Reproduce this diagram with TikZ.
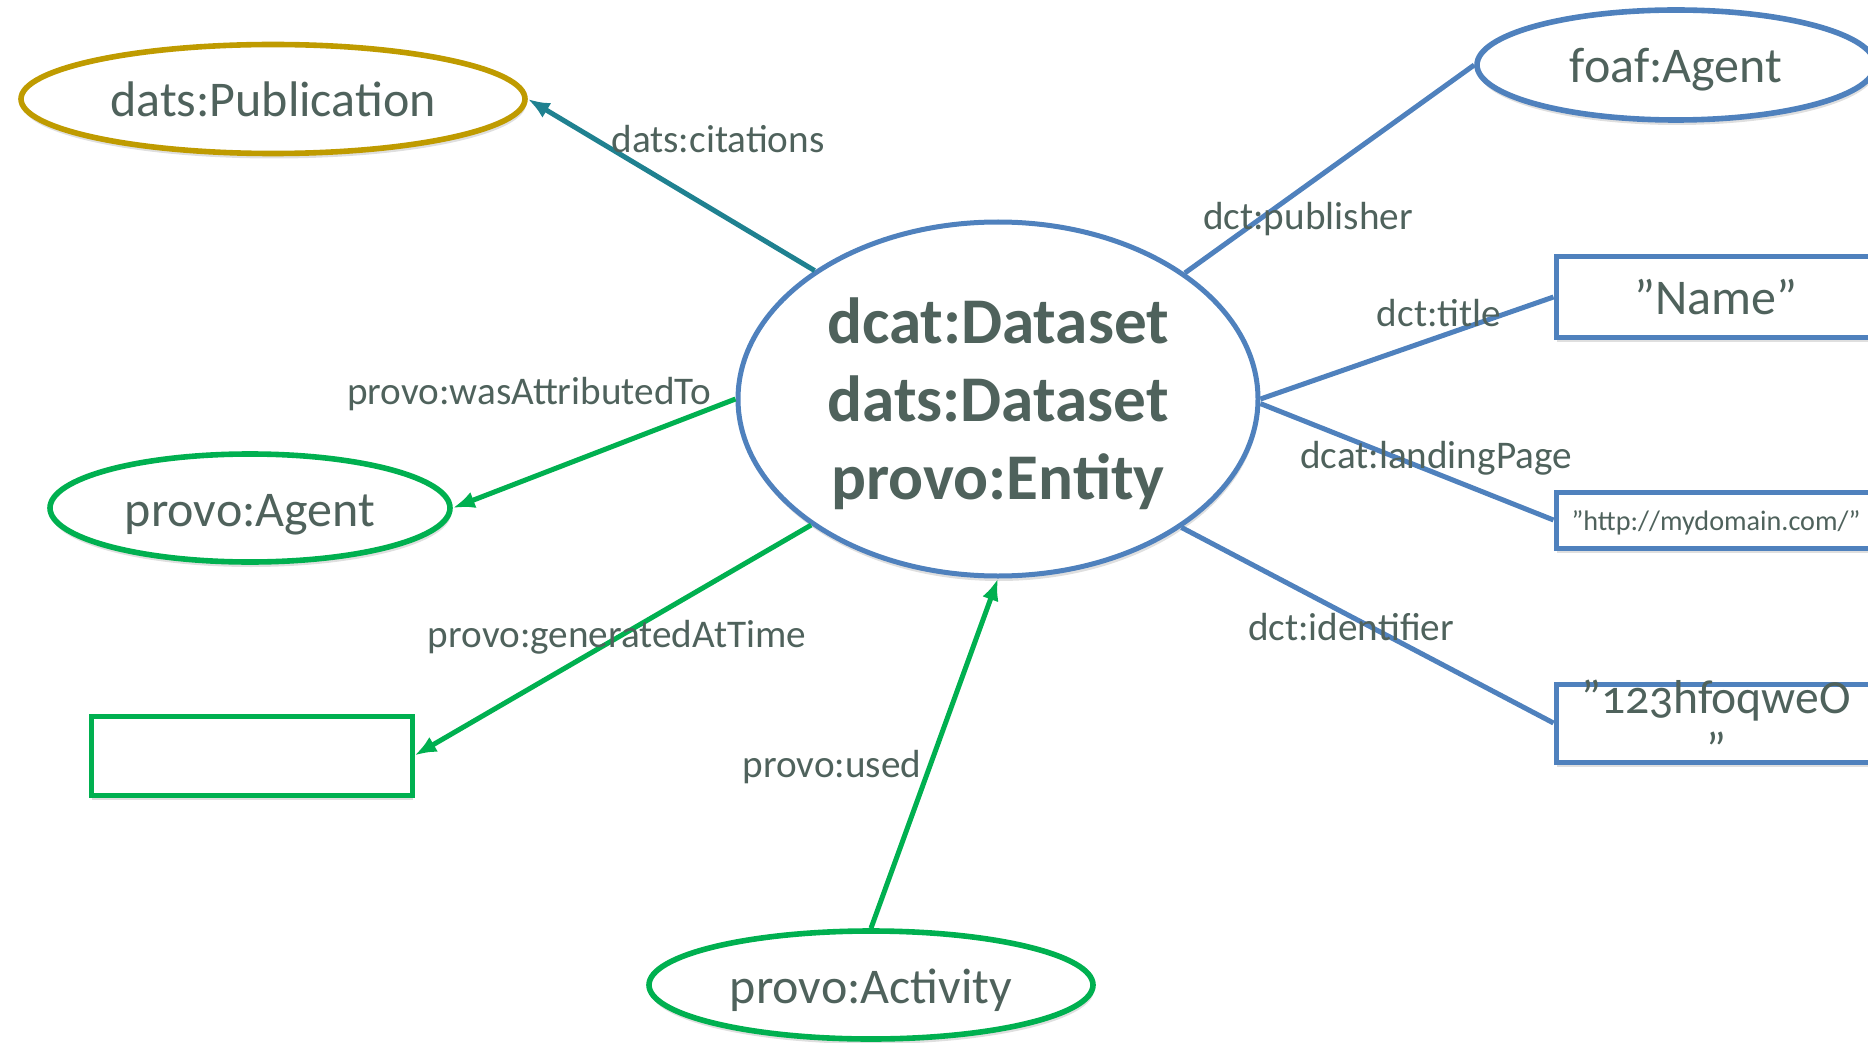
\documentclass[tikz,border=0pt]{standalone}
\usepackage{fontspec}
\setmainfont{Carlito}
\usetikzlibrary{shapes.geometric,arrows.meta,shadows}
\definecolor{ink}{HTML}{4F625C}
\definecolor{dsblue}{HTML}{4F81BD}
\definecolor{dsgreen}{HTML}{00B050}
\definecolor{dsgold}{HTML}{BF9B00}
\definecolor{dsteal}{HTML}{1F8190}

\begin{document}
\begin{tikzpicture}[x=0.5pt, y=-0.5pt,
every node/.style={text=ink, align=center, inner sep=0pt, font=\fontsize{25}{30}\selectfont},
ent/.style={ellipse, draw, line width=2.8pt, fill=white, text height=23pt, text depth=5pt, drop shadow={shadow xshift=.5pt, shadow yshift=-2.5pt, opacity=.25}},
lit/.style={rectangle, draw=dsblue, line width=2.5pt, fill=white, minimum width=160pt, drop shadow={shadow xshift=.5pt, shadow yshift=-2.5pt, opacity=.25}},
lbl/.style={font=\fontsize{19.6}{23}\selectfont, text height=17.5pt, text depth=3.9pt},
rel/.style={line width=2.5pt},
tip/.style={-{Latex[length=11pt,width=8.5pt]}}]
\useasboundingbox (0,0) rectangle (1868,1043);
\clip (0,0) rectangle (1868,1043);
% resources
\node[ent, draw=dsblue, line width=2.5pt, minimum width=260pt, minimum height=177pt, text height={}, text depth=0pt, font=\bfseries\fontsize{32.6}{39}\selectfont] (ds) at (998,399) {dcat:Dataset\\dats:Dataset\\provo:Entity};
\node[ent, draw=dsgold, minimum width=252pt, minimum height=54.5pt] (pub) at (273,99) {dats:Publication};
\node[ent, draw=dsblue, minimum width=199pt, minimum height=55pt] (foaf) at (1676,65) {foaf:Agent};
\node[ent, draw=dsgreen, minimum width=200pt, minimum height=54pt] (agent) at (250,508) {provo:Agent};
\node[ent, draw=dsgreen, minimum width=222pt, minimum height=54pt] (act) at (871,985) {provo:Activity};
\node[lit, minimum height=40pt] (name) at (1716,297) {”Name”};
\node[lit, minimum height=28pt, text height=13pt, text depth=3pt, font=\fontsize{14.1}{17}\selectfont] (url) at (1716,520) {”http://mydomain.com/”};
\node[lit, minimum height=39pt] (ident) at (1716,723) {};
\node[lit, draw=dsgreen, minimum width=160.5pt, minimum height=39.5pt] (time) at (251.5,755.5) {};
% relations
\draw[rel, dsteal, tip] (ds.145.6) -- (pub.east);
\draw[rel, dsblue] (ds.34) -- (foaf.west);
\draw[rel, dsblue] (ds.east) -- (name.west);
\draw[rel, dsblue] (ds.359) -- (url.west);
\draw[rel, dsblue] (ds.325.6) -- (ident.west);
\draw[rel, dsgreen, tip] (ds.west) -- (agent.east);
\draw[rel, dsgreen, tip] (ds.214.8) -- (time.east);
\draw[rel, dsgreen, tip] (act.north) -- (ds.south);
% labels
\node[lbl] (lcit) at (718,139) {dats:citations};
\node[lbl] (lpub) at (1308,216) {dct:publisher};
\node[lbl] (ltitle) at (1439,313) {dct:title};
\node[lbl] (lland) at (1436,455) {dcat:landingPage};
\node[lbl] (lid) at (1351,627) {dct:identifier};
\node[lbl] (lattr) at (529,391) {provo:wasAttributedTo};
\node[lbl] (lgen) at (617,634) {provo:generatedAtTime};
\node[lbl] (lused) at (832,764) {provo:used};
\node[font=\fontsize{23.8}{26}\selectfont\addfontfeature{Numbers=OldStyle}] (idtxt) at (ident.center) {”123hfoqweO\\”};
\end{tikzpicture}
\end{document}
